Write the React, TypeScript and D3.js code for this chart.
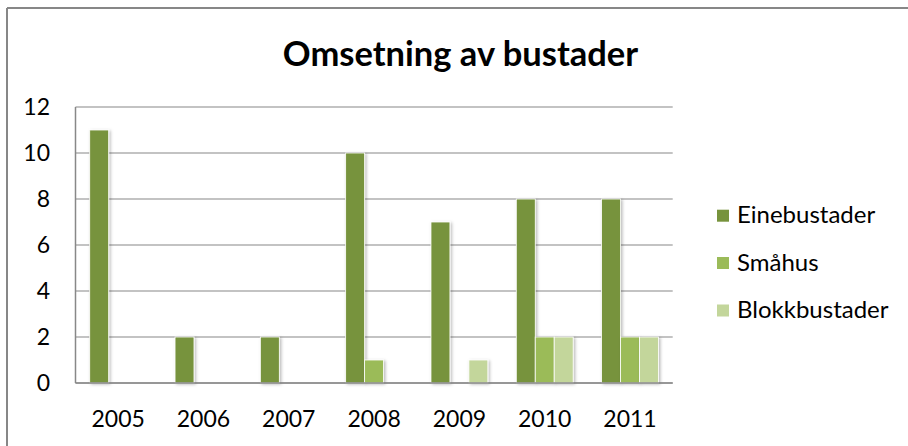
import React from "react";
import * as d3 from "d3";

const categories = ["2005", "2006", "2007", "2008", "2009", "2010", "2011"];
const seriesNames = ["Einebustader", "Småhus", "Blokkbustader"];
const einebustader = [11, 2, 2, 10, 7, 8, 8];
const smahus = [0, 0, 0, 1, 0, 2, 2];
const blokkbustader = [0, 0, 0, 0, 1, 2, 2];
const yTicks = [0, 2, 4, 6, 8, 10, 12];
const title = "Omsetning av bustader";

const colors = ["#77933C", "#9BBB59", "#C3D69B"];
const FONT = "Lato, 'Open Sans', sans-serif";

export default function App() {
  const W = 908, H = 446;
  const left = 75.5, right = 672.7, top = 107, bottom = 383;
  const seriesValues = [einebustader, smahus, blokkbustader];

  const x = d3.scaleBand<string>().domain(categories).range([left, right]).paddingInner(0).paddingOuter(0);
  const y = d3.scaleLinear().domain([0, 12]).range([bottom, top]);
  const band = x.bandwidth();
  const barW = band / 4.5;
  const xs = d3.scaleBand<string>().domain(seriesNames).range([0, barW * 3]);

  const legendYs = [215.7, 263, 310.5];

  return (
    <svg width={W} height={H} style={{ position: "absolute", left: 0, top: 0, background: "#fff" }} fontFamily={FONT}>
      <defs>
        <filter id="sh" x="-50%" y="-10%" width="200%" height="130%">
          <feDropShadow dx="1.5" dy="1" stdDeviation="1.5" floodColor="#000" floodOpacity="0.28" />
        </filter>
      </defs>
      <rect x={0} y={0} width={W} height={H} fill="#fff" />
      {/* outer frame */}
      <line x1={7} x2={W} y1={8} y2={8} stroke="#878787" strokeWidth={2} />
      <line x1={7} x2={7} y1={8} y2={H} stroke="#878787" strokeWidth={2} />

      <text x={460.5} y={66} textAnchor="middle" fontSize={34.5} fontWeight={700} fill="#000">{title}</text>

      {/* gridlines */}
      {yTicks.map((t) => (
        <line key={t} x1={left} x2={right} y1={y(t)} y2={y(t)} stroke="#888" strokeWidth={1.2} />
      ))}
      {yTicks.map((t) => (
        <text key={"l" + t} x={50} y={y(t) + 8} textAnchor="end" fontSize={23} fill="#000">{t}</text>
      ))}

      {/* bars */}
      {categories.map((c, i) => {
        const gx = x(c)! + (band - barW * 3) / 2;
        return seriesNames.map((s, j) => {
          const v = seriesValues[j][i];
          if (!v) return null;
          return (
            <rect key={c + s} x={gx + xs(s)!} y={y(v)} width={barW} height={y(0) - y(v)}
              fill={colors[j]} stroke="#fff" strokeWidth={0.8} filter="url(#sh)" />
          );
        });
      })}

      {/* axes */}
      <line x1={left} x2={left} y1={top} y2={bottom} stroke="#888" strokeWidth={1.5} />
      <line x1={left} x2={right} y1={bottom} y2={bottom} stroke="#888" strokeWidth={1.5} />

      {categories.map((c) => (
        <text key={"x" + c} x={x(c)! + band / 2} y={427} textAnchor="middle" fontSize={23} fill="#000">{c}</text>
      ))}

      {/* legend */}
      {seriesNames.map((s, j) => (
        <g key={"lg" + s}>
          <rect x={717} y={legendYs[j] - 6} width={12} height={12} fill={colors[j]} />
          <text x={737} y={legendYs[j] + 7.5} fontSize={24} fill="#000">{s}</text>
        </g>
      ))}
    </svg>
  );
}
